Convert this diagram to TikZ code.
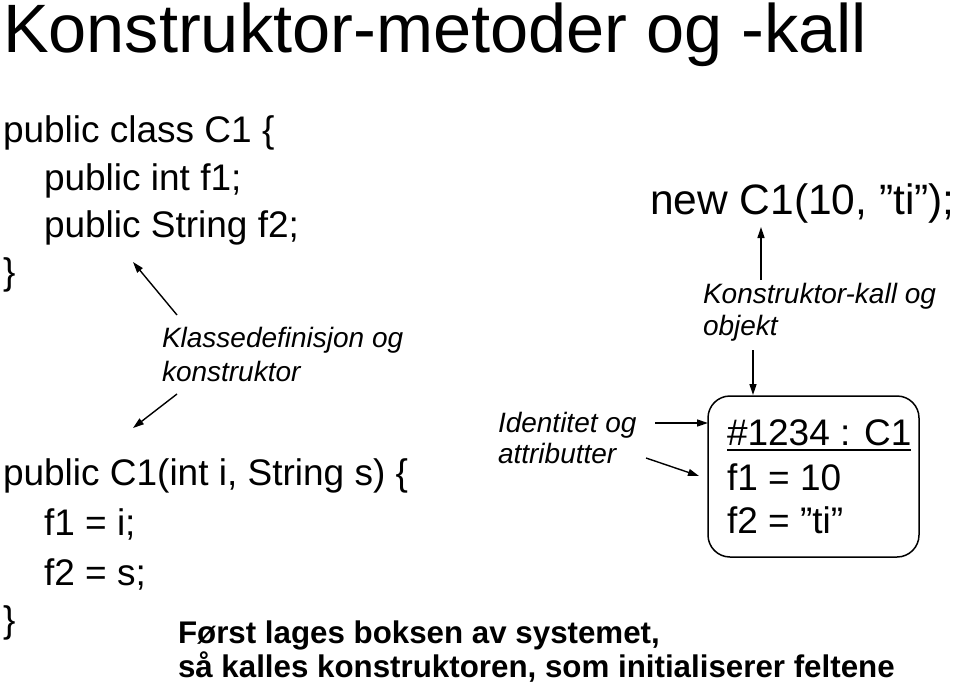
\documentclass[tikz,border=0pt]{standalone}
\usepackage{fontspec}
\setmainfont{Liberation Sans}
\usetikzlibrary{arrows.meta}
\tikzset{
  txt/.style={anchor=base west, inner sep=0pt, outer sep=0pt},
  title/.style={txt, font=\fontsize{68.5}{68.5}\selectfont},
  code/.style={txt, font=\fontsize{37}{37}\selectfont},
  note/.style={txt, font=\fontsize{28}{28}\selectfont\itshape},
  big/.style={txt, font=\fontsize{42.5}{42.5}\selectfont},
  obj/.style={txt, font=\fontsize{37}{37}\selectfont},
  bold/.style={txt, font=\fontsize{31.3}{31.3}\selectfont\bfseries},
  arr/.style={-{Triangle[length=11pt,width=7pt]}, line width=1.4pt},
  objbox/.style={draw, line width=1.5pt, rounded corners=22pt}
}
\begin{document}
\begin{tikzpicture}[x=1pt,y=-1pt]
\useasboundingbox (0,0) rectangle (960,687);
\node[title] (t) at (3,53) {Konstruktor-metoder og -kall};
% class
\node[code] (c1) at (3,143) {public class C1 \{};
\node[code] (c2) at (44,190) {public int f1;};
\node[code] (c3) at (44,237) {public String f2;};
\node[code] (c4) at (3,284) {\}};
% constructor
\node[code] (k1) at (3,485) {public C1(int i, String s) \{};
\node[code] (k2) at (44,535) {f1 = i;};
\node[code] (k3) at (44,585) {f2 = s;};
\node[code] (k4) at (3,632) {\}};
% note
\node[note] (n1) at (162,347) {Klassedefinisjon og};
\node[note] (n2) at (162,381) {konstruktor};
\coordinate (a1s) at (177,315);
\coordinate (a1e) at (133,262);
\coordinate (a2s) at (177,394);
\coordinate (a2e) at (133,428);
\draw[arr] (a1s) -- (a1e);
\draw[arr] (a2s) -- (a2e);
% identity
\node[note] (i1) at (498,432) {Identitet og};
\node[note] (i2) at (498,463) {attributter};
% new call
\node[big] (nw) at (650,214) {new C1(10, ”ti”);};
\node[note] (kk1) at (703,303) {Konstruktor-kall og};
\node[note] (kk2) at (703,335) {objekt};
\coordinate (b1s) at (761,280);
\coordinate (b1e) at (761,227);
\coordinate (b2s) at (753,350);
\coordinate (b2e) at (753,395);
\draw[arr] (b1s) -- (b1e);
\draw[arr] (b2s) -- (b2e);
% object box
\draw[objbox] (708,396) rectangle (919,557);
\node[obj] (o1) at (727,445) {\#1234 : C1};
\draw[line width=2pt] (o1.base west) ++(0,5) -- ++(184,0);
\node[obj] (o2) at (727,490) {f1 = 10};
\node[obj] (o3) at (727,533) {f2 = ”ti”};
\coordinate (c1s) at (655,423);
\coordinate (c1e) at (708,423);
\coordinate (c2s) at (646,458);
\coordinate (c2e) at (699,476);
\draw[arr] (c1s) -- (c1e);
\draw[arr] (c2s) -- (c2e);
% bottom
\node[bold] (bt1) at (178,643) {Først lages boksen av systemet,};
\node[bold] (bt2) at (178,677) {så kalles konstruktoren, som initialiserer feltene};
\end{tikzpicture}
\end{document}
